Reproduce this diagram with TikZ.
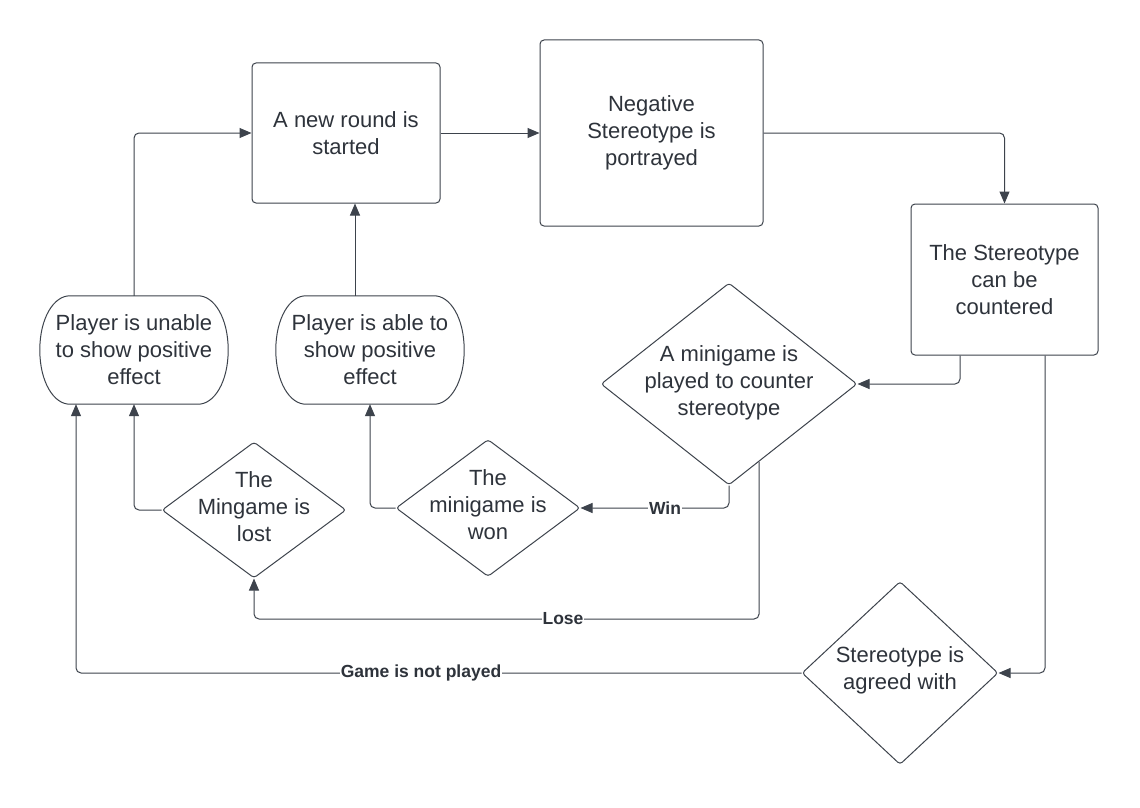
\documentclass[tikz,border=0pt]{standalone}
\usepackage{fontspec}
\setmainfont{Liberation Sans}
\usetikzlibrary{shapes.geometric,arrows.meta,calc}
\definecolor{ln}{HTML}{3D434C}
\definecolor{tx}{HTML}{2E333B}
\begin{document}
\begin{tikzpicture}[x=1pt,y=-1pt,
  mainfont/.style={font=\fontsize{22}{27}\selectfont},
  box/.style={draw=ln, line width=1pt, rounded corners=4pt, text=tx, mainfont, align=center, inner sep=0pt},
  dia/.style={draw=ln, line width=1pt, shape=diamond, rounded corners=3pt, inner sep=0pt},
  txt/.style={text=tx, mainfont, align=center, inner sep=0pt},
  pill/.style={inner sep=0pt, text=tx, mainfont, align=center, minimum width=188pt, minimum height=108pt},
  pillline/.style={draw=ln, line width=1pt},
  conn/.style={draw=ln, line width=1pt, rounded corners=5pt, -{Triangle[length=12pt,width=10pt]}},
  lbl/.style={fill=white, text=tx, font=\bfseries\fontsize{17.5}{20}\selectfont, inner sep=1pt}
]
\useasboundingbox (0,0) rectangle (1140,808);
\fill[white] (0,0) rectangle (1140,808);

% boxes
\node[box, minimum width=188pt, minimum height=140pt] (box1) at (346,133) {A new round is\\started};
\node[box, minimum width=223pt, minimum height=186pt] (box2) at (651.5,133) {Negative\\Stereotype is\\portrayed};
\node[box, minimum width=187pt, minimum height=151pt] (box3) at (1004.5,279.5) {The Stereotype\\can be\\countered};

% diamonds
\node[dia, minimum width=256pt, minimum height=202pt] (d1) at (729,384) {};
\node[txt] (d1t) at (729,383) {A minigame is\\played to counter\\stereotype};
\node[dia, minimum width=184pt, minimum height=136pt] (d2) at (254,510) {};
\node[txt] (d2t) at (254,507) {The\\Mingame is\\lost};
\node[dia, minimum width=184pt, minimum height=137pt] (d3) at (488,508) {};
\node[txt] (d3t) at (488,505) {The\\minigame is\\won};
\node[dia, minimum width=196pt, minimum height=183pt] (d4) at (900,673) {};
\node[txt] (d4t) at (900,670) {Stereotype is\\agreed with};

% pill shapes
\node[pill] (p1) at (134,350) {Player is unable\\to show positive\\effect};
\node[pill] (p2) at (370,350) {Player is able to\\show positive\\effect};
\foreach \n in {p1,p2}{
  \draw[pillline] ($(\n.north west)+(30,0)$) -- ($(\n.north east)+(-30,0)$)
    .. controls +(16,0) and +(0,-32) .. (\n.east)
    .. controls +(0,32) and +(16,0) .. ($(\n.south east)+(-30,0)$)
    -- ($(\n.south west)+(30,0)$)
    .. controls +(-16,0) and +(0,32) .. (\n.west)
    .. controls +(0,-32) and +(-16,0) .. ($(\n.north west)+(30,0)$) -- cycle;
}

% helper coordinates
\coordinate (b1in) at ($(box1.south)+(9,0)$);
\coordinate (b3a) at ($(box3.south)+(-44.5,0)$);
\coordinate (b3b) at ($(box3.south)+(40.5,0)$);
\coordinate (d1lose) at ($(d1.south)!0.234!(d1.east)$);
\coordinate (losecorner) at (d1lose |- 0,619);
\coordinate (p1in) at ($(p1.south)+(-58,0)$);

% connectors
\draw[conn] (box1.east) -- (box2.west);
\draw[conn] (box2.east) -| (box3.north);
\draw[conn] (b3a) |- (d1.east);
\draw[conn] (b3b) |- (d4.east);
\draw[conn] (d1.south) |- (d3.east);
\draw[conn] (d1lose) -- (losecorner) -| (d2.south);
\draw[conn] (d4.west) -| (p1in);
\draw[conn] (d2.west) -| (p1.south);
\draw[conn] (d3.west) -| (p2.south);
\draw[conn] (p2.north -| b1in) -- (b1in);
\draw[conn] (p1.north) |- (box1.west);

% labels
\node[lbl] (win) at (665,508) {Win};
\node[lbl] (lose) at (563,619) {Lose};
\node[lbl] (notplayed) at (421,673) {Game is not played};
\end{tikzpicture}
\end{document}
